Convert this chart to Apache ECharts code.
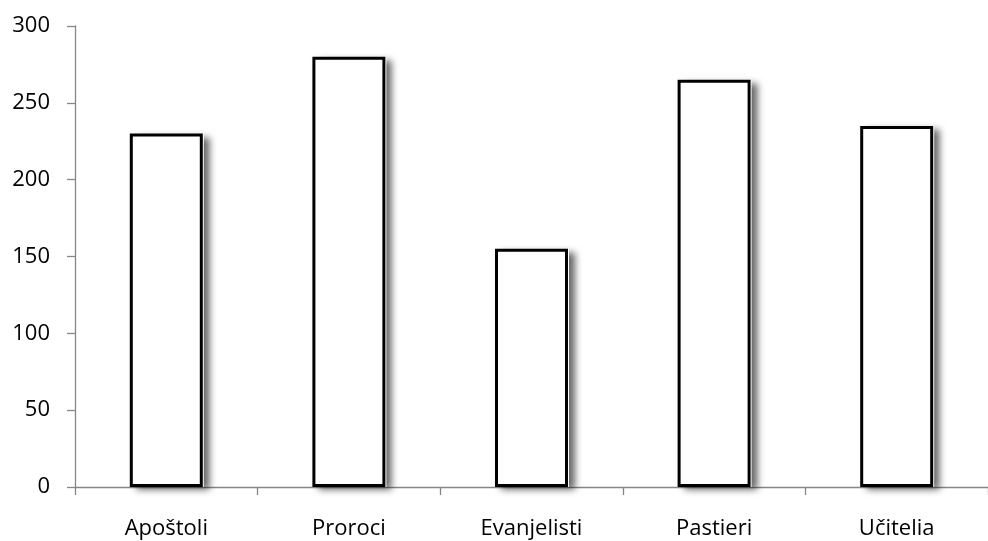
<!DOCTYPE html>
<html>
<head>
<meta charset="utf-8">
<script src="https://cdn.jsdelivr.net/npm/echarts@6/dist/echarts.min.js"></script>
<style>html,body{margin:0;padding:0;background:#fff}#c{width:988px;height:541px}</style>
</head>
<body>
<div id="c"></div>
<script>
const categories = ['Apoštoli', 'Proroci', 'Evanjelisti', 'Pastieri', 'Učitelia'];
const values = [230, 280, 155, 265, 235];
const yTicks = [0, 50, 100, 150, 200, 250, 300];

const chart = echarts.init(document.getElementById('c'), null, {renderer: 'canvas'});
const axisColor = '#868686';
chart.setOption({
  animation: false,
  grid: {left: 75, top: 26, width: 922, height: 461},
  xAxis: {
    type: 'category',
    data: categories,
    boundaryGap: true,
    axisLine: {lineStyle: {color: axisColor, width: 1.3}},
    axisTick: {show: true, length: 8, lineStyle: {color: axisColor, width: 1.3}},
    axisLabel: {color: '#000', fontSize: 22, fontFamily: 'Open Sans', margin: 31}
  },
  yAxis: {
    type: 'value',
    min: yTicks[0],
    max: yTicks[yTicks.length - 1],
    interval: 50,
    splitLine: {show: false},
    axisLine: {show: true, lineStyle: {color: axisColor, width: 1.3}},
    axisTick: {show: true, length: 8, lineStyle: {color: axisColor, width: 1.3}},
    axisLabel: {color: '#000', fontSize: 22, fontFamily: 'Open Sans', margin: 25}
  },
  series: [{
    type: 'bar',
    data: values,
    barWidth: 74,
    barGap: '-100%',
    z: 1,
    silent: true,
    itemStyle: {
      color: '#ffffff',
      shadowColor: 'rgba(0,0,0,0.6)',
      shadowBlur: 7,
      shadowOffsetX: 6,
      shadowOffsetY: 3
    }
  }, {
    type: 'bar',
    data: values,
    barWidth: 73,
    barGap: '-100%',
    z: 2,
    itemStyle: {
      color: '#ffffff',
      borderColor: '#000000',
      borderWidth: 3
    }
  }]
});
</script>
</body>
</html>
